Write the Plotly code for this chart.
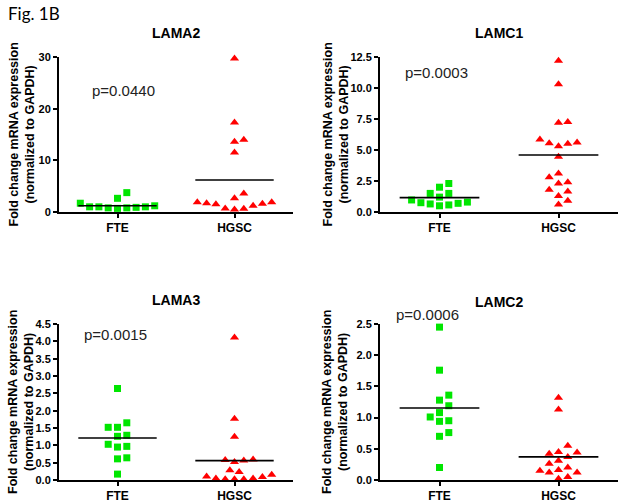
import numpy as np
import plotly.graph_objects as go

W, H = 624, 502
groups = ["FTE", "HGSC"]

# values
lama2_fte = [3.75, 2.65, 1.7, 1.2, 1.0, 1.0, 0.9, 0.8, 1.0, 0.7, 0.8]
lama2_hgsc = [29.7, 17.3, 14.0, 13.6, 11.5, 3.6, 2.65, 1.9, 1.9, 1.7, 1.6, 1.5, 1.2, 0.7, 0.65, 0.5]
lama2_mean = [1.2, 6.2]

lamc1_fte = [2.3, 2.0, 1.5, 1.5, 1.2, 0.97, 0.8, 0.75, 0.7, 0.65, 0.57, 0.5]
lamc1_hgsc = [12.2, 10.3, 7.25, 7.2, 5.85, 5.6, 5.55, 5.5, 5.3, 4.45, 3.1, 2.8, 2.4, 2.3, 1.8, 1.65, 1.3, 0.9, 0.6]
lamc1_mean = [1.16, 4.6]

lama3_fte = [2.64, 1.65, 1.52, 1.52, 1.29, 1.26, 1.03, 0.97, 0.95, 0.64, 0.61, 0.17]
lama3_hgsc = [4.11, 1.77, 1.25, 0.59, 0.58, 0.56, 0.52, 0.28, 0.23, 0.15, 0.1, 0.09, 0.04, 0.04, 0.02, 0.02, 0.02]
lama3_mean = [1.21, 0.56]

lamc2_fte = [2.45, 1.76, 1.36, 1.28, 1.19, 1.08, 1.01, 0.95, 0.94, 0.76, 0.70, 0.20]
lamc2_hgsc = [1.32, 1.13, 0.55, 0.45, 0.44, 0.42, 0.37, 0.31, 0.26, 0.20, 0.16, 0.15, 0.12, 0.12, 0.05, 0.02]
lamc2_mean = [1.155, 0.37]

panels = [
    dict(title="LAMA2", fte=lama2_fte, hgsc=lama2_hgsc, mean=lama2_mean, ymax=30, dtick=10, fmt="d",
         box=(59, 293, 57, 212), ttl_y=33, p="p=0.0440", p_xy=(123, 90), ylab_x=21),
    dict(title="LAMC1", fte=lamc1_fte, hgsc=lamc1_hgsc, mean=lamc1_mean, ymax=12.5, dtick=2.5, fmt=".1f",
         box=(380, 618, 57, 212), ttl_y=33, p="p=0.0003", p_xy=(436, 73), ylab_x=335),
    dict(title="LAMA3", fte=lama3_fte, hgsc=lama3_hgsc, mean=lama3_mean, ymax=4.5, dtick=0.5, fmt=".1f",
         box=(59, 293, 324, 480), ttl_y=300, p="p=0.0015", p_xy=(115, 334), ylab_x=21),
    dict(title="LAMC2", fte=lamc2_fte, hgsc=lamc2_hgsc, mean=lamc2_mean, ymax=2.5, dtick=0.5, fmt=".1f",
         box=(380, 618, 324, 480), ttl_y=302, p="p=0.0006", p_xy=(427, 314), ylab_x=335),
]


def px(x):
    return x / W


def py(y):
    return 1 - y / H


def swarm(vals, ppu, step=4.65, dist=8.5):
    # simple beeswarm in pixel space, returns x offsets in pixels
    placed = []
    offs = [0.0] * len(vals)
    cands = [0] + [s * j for j in range(1, 30) for s in (1, -1)]
    for i in np.argsort(vals):
        y = vals[i] * ppu
        for c in cands:
            cx = c * step
            if all((cx - a) ** 2 + (y - b) ** 2 >= dist ** 2 for a, b in placed):
                break
        placed.append((cx, y))
        offs[i] = cx
    return offs


fig = go.Figure()
annotations = []
font = "Arial, 'Liberation Sans', sans-serif"

for n, p in enumerate(panels, start=1):
    x0, x1, y0, y1 = p["box"]
    xa = "x" if n == 1 else "x%d" % n
    ya = "y" if n == 1 else "y%d" % n
    ppu_y = (y1 - y0) / p["ymax"]
    ppu_x = (x1 - x0) / 2.0

    for gi, (vals, sym, col) in enumerate([(p["fte"], "square", "#00e600"),
                                           (p["hgsc"], "triangle-up", "#ff0000")]):
        offs = swarm(vals, ppu_y)
        fig.add_trace(go.Scatter(
            x=[gi + o / ppu_x for o in offs], y=vals, mode="markers",
            marker=dict(symbol=sym, size=7 if sym == "square" else 8, color=col, line=dict(width=0)),
            cliponaxis=False, showlegend=False, hoverinfo="skip", xaxis=xa, yaxis=ya))
        hw = 0.335
        fig.add_trace(go.Scatter(
            x=[gi - hw, gi + hw], y=[p["mean"][gi]] * 2, mode="lines",
            line=dict(color="black", width=1.6), cliponaxis=False,
            showlegend=False, hoverinfo="skip", xaxis=xa, yaxis=ya))

    fig.update_layout(**{
        ("xaxis" if n == 1 else "xaxis%d" % n): dict(
            domain=[px(x0), px(x1)], range=[-0.5, 1.5], anchor=ya, automargin=False,
            tickvals=[0, 1], ticktext=groups, showgrid=False, zeroline=False,
            showline=True, linecolor="black", linewidth=2,
            ticks="outside", ticklen=4, tickwidth=1.5, tickcolor="black",
            tickfont=dict(family=font, size=12, color="black", weight="bold")),
        ("yaxis" if n == 1 else "yaxis%d" % n): dict(
            domain=[py(y1), py(y0)], range=[0, p["ymax"]], anchor=xa, automargin=False,
            dtick=p["dtick"], tick0=0, tickformat=p["fmt"], showgrid=False, zeroline=False,
            showline=True, linecolor="black", linewidth=2,
            ticks="outside", ticklen=4, tickwidth=1.5, tickcolor="black",
            tickfont=dict(family=font, size=11, color="black", weight="bold")),
    })

    annotations.append(dict(
        x=px((x0 + x1) / 2), y=py(p["ttl_y"]), xref="paper", yref="paper",
        text="<b>%s</b>" % p["title"], showarrow=False, xanchor="center", yanchor="middle",
        font=dict(family=font, size=14, color="black")))
    annotations.append(dict(
        x=px(p["p_xy"][0]), y=py(p["p_xy"][1]), xref="paper", yref="paper",
        text=p["p"], showarrow=False, xanchor="center", yanchor="middle",
        font=dict(family=font, size=15, color="#222222")))
    annotations.append(dict(
        x=px(p["ylab_x"]), y=py((y0 + y1) / 2), xref="paper", yref="paper",
        text="<b>Fold change mRNA expression<br>(normalized to GAPDH)</b>",
        textangle=-90, showarrow=False, xanchor="center", yanchor="middle",
        font=dict(family=font, size=12.5, color="black")))

annotations.append(dict(
    x=px(6), y=py(14), xref="paper", yref="paper", text="Fig. 1B",
    showarrow=False, xanchor="left", yanchor="middle",
    font=dict(family="Lato, Carlito, sans-serif", size=17, color="black")))

fig.update_layout(width=W, height=H, margin=dict(l=0, r=0, t=0, b=0, autoexpand=False),
                  plot_bgcolor="white", paper_bgcolor="white", hovermode=False,
                  annotations=annotations)

# the page body has a default 8px margin; drop it so the figure sits at the window origin
fig.write_html("out.html", config={"displayModeBar": False},
               post_script="document.body.style.margin='0';")
